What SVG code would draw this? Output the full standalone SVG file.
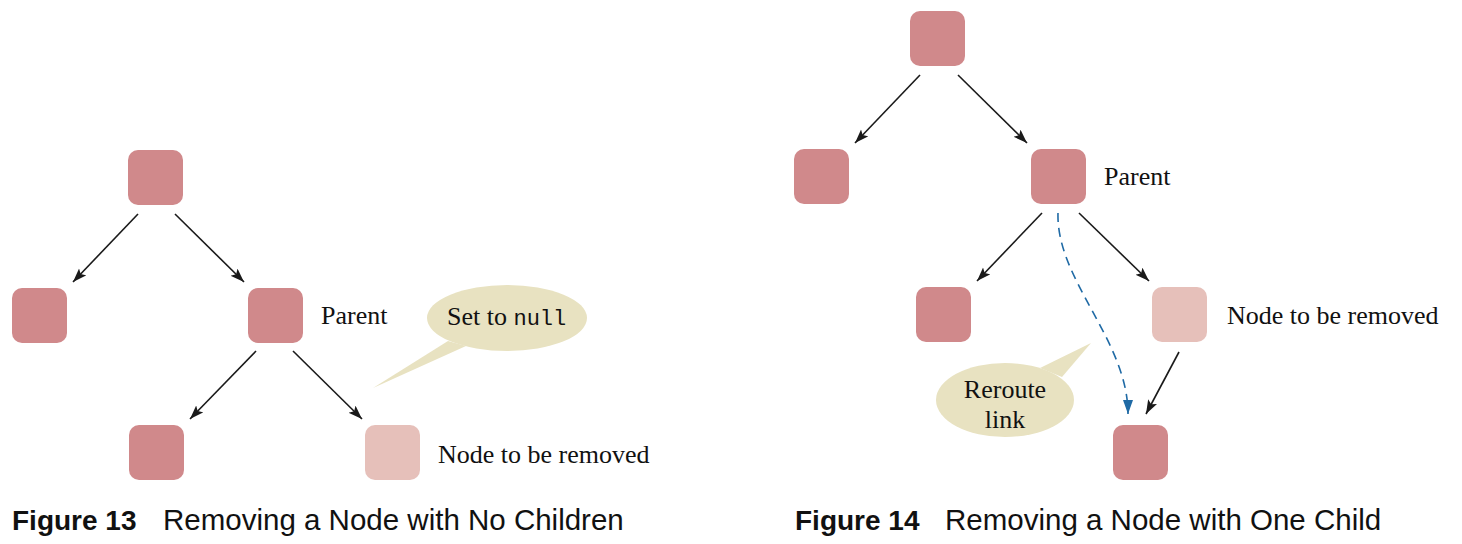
<svg xmlns="http://www.w3.org/2000/svg" width="1462" height="544" viewBox="0 0 1462 544">
<style>
.node{fill:#D0898B}
.gone{fill:#E6C0BA}
.edge{stroke:#1a1a1a;stroke-width:1.6;fill:none}
.dash{stroke:#1F6AA5;stroke-width:1.6;fill:none;stroke-dasharray:9,6}
.call{fill:#E8E2C1}
.lbl{font-family:"Liberation Serif",serif;font-size:26px;fill:#111}
.mono{font-family:"Liberation Mono",monospace;font-size:22px}
.cap{font-family:"Liberation Sans",Arial,sans-serif;font-size:28px;fill:#111}
.capb{font-weight:bold}
.capr{font-size:29.5px}
</style>
<defs>
<marker id="ah" markerUnits="userSpaceOnUse" markerWidth="16" markerHeight="12" refX="14" refY="5" orient="auto">
<path d="M0,0 L14,5 L0,10 L3,5 z" fill="#1a1a1a"/>
</marker>
<marker id="ahb" markerUnits="userSpaceOnUse" markerWidth="16" markerHeight="12" refX="14" refY="5" orient="auto">
<path d="M0,0 L14,5 L0,10 z" fill="#1F6AA5"/>
</marker>
</defs>

<!-- Figure 13 -->
<g id="f13-root"><rect class="node" x="128" y="150" width="55" height="55" rx="10"/></g>
<g id="f13-left"><rect class="node" x="12" y="288" width="55" height="55" rx="10"/></g>
<g id="f13-parent"><rect class="node" x="248" y="288" width="55" height="55" rx="10"/><text class="lbl" x="321" y="324">Parent</text></g>
<g id="f13-child"><rect class="node" x="129" y="425" width="55" height="55" rx="10"/></g>
<g id="f13-removed"><rect class="gone" x="365" y="425" width="55" height="55" rx="10"/><text class="lbl" x="438" y="463">Node to be removed</text></g>
<g id="f13-callout">
<path class="call" d="M448,341 L373,388 L466,346 z"/>
<ellipse class="call" cx="507" cy="318" rx="80" ry="33"/>
<text class="lbl" x="447" y="325">Set to <tspan class="mono">null</tspan></text>
</g>

<!-- Figure 14 -->
<g id="f14-root"><rect class="node" x="910" y="11" width="55" height="55" rx="10"/></g>
<g id="f14-left"><rect class="node" x="794" y="149" width="55" height="55" rx="10"/></g>
<g id="f14-parent"><rect class="node" x="1031" y="149" width="55" height="55" rx="10"/><text class="lbl" x="1104" y="185">Parent</text></g>
<g id="f14-pleft"><rect class="node" x="916" y="287" width="55" height="55" rx="10"/></g>
<g id="f14-removed"><rect class="gone" x="1152" y="287" width="55" height="55" rx="10"/><text class="lbl" x="1227" y="324">Node to be removed</text></g>
<g id="f14-child"><rect class="node" x="1113" y="425" width="55" height="55" rx="10"/></g>
<g id="f14-callout">
<path class="call" d="M1040,368 L1091,343 L1062,377 z"/>
<ellipse class="call" cx="1005" cy="400" rx="69" ry="37"/>
<text class="lbl" x="1005" y="398" text-anchor="middle">Reroute</text>
<text class="lbl" x="1005" y="428" text-anchor="middle">link</text>
</g>

<g id="connectors">
<line class="edge" x1="138" y1="214" x2="73" y2="282" marker-end="url(#ah)"/>
<line class="edge" x1="175" y1="214" x2="244" y2="282" marker-end="url(#ah)"/>
<line class="edge" x1="256" y1="351" x2="190" y2="419" marker-end="url(#ah)"/>
<line class="edge" x1="293" y1="351" x2="362" y2="419" marker-end="url(#ah)"/>
<line class="edge" x1="920" y1="75" x2="855" y2="143" marker-end="url(#ah)"/>
<line class="edge" x1="958" y1="75" x2="1027" y2="143" marker-end="url(#ah)"/>
<line class="edge" x1="1042" y1="213" x2="977" y2="281" marker-end="url(#ah)"/>
<line class="edge" x1="1079" y1="213" x2="1149" y2="281" marker-end="url(#ah)"/>
<line class="edge" x1="1179" y1="352" x2="1146" y2="414" marker-end="url(#ah)"/>
<path class="dash" d="M1058,213 C1056,280 1128,340 1128,414" marker-end="url(#ahb)"/>
</g>

<g id="captions">
<text class="cap" x="12" y="530"><tspan class="capb">Figure 13</tspan><tspan class="capr" x="163">Removing a Node with No Children</tspan></text>
<text class="cap" x="795" y="530"><tspan class="capb">Figure 14</tspan><tspan class="capr" x="945">Removing a Node with One Child</tspan></text>
</g>
</svg>
